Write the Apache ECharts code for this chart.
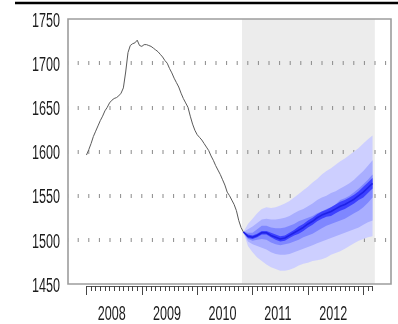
<!DOCTYPE html>
<html>
<head>
<meta charset="utf-8">
<script src="https://cdn.jsdelivr.net/npm/echarts@6/dist/echarts.min.js"></script>
<style>
  html, body { margin: 0; padding: 0; background: #fff; }
  #chart { width: 398px; height: 324px; }
</style>
</head>
<body>
<div id="chart"></div>
<script>
// Months are counted from January 2008.
const yearLabels = ['2008', '2009', '2010', '2011', '2012'];
const yTickValues = [1450, 1500, 1550, 1600, 1650, 1700, 1750];

// Observed index, every half month from Jan 2008
const histValues = [1596,1602,1609,1617,1623,1629,1635,1640,1646,1650,1655,1658,1660,1661,1663,1666,
  1672,1690,1712,1720,1722,1723,1726,1720,1719,1721,1721,1720,1719,1717,1715,1713,1710,1707,1703,
  1700,1694,1689,1683,1678,1673,1666,1660,1655,1650,1640,1631,1624,1619,1616,1613,1609,1605,1601,
  1595,1590,1584,1579,1574,1568,1562,1554,1550,1545,1540,1533,1522,1514,1509];
const histMonths = histValues.map((_, i) => i * 0.5);

// Forecast fan, monthly
const fanMonths = [34,35,36,37,38,39,40,41,42,43,44,45,46,47,48,49,50,51,52,53,54,55,56,57,58,59,60,61,62];
const fanMedian = [1509,1504,1503,1505,1508,1508,1505,1503,1501,1502,1505,1508,1511,1514,1518,1521,1525,1528,1530,1532,1535,1538,1540,1543,1546,1550,1554,1559,1564];
const upper1 = [1509,1518,1524,1530,1535,1537,1536,1537,1539,1541,1544,1548,1552,1556,1560,1565,1569,1574,1578,1581,1585,1589,1592,1596,1600,1604,1609,1614,1618];
const lower1 = [1509,1493,1486,1480,1476,1472,1469,1467,1465,1465,1466,1468,1471,1473,1474,1476,1477,1478,1480,1483,1485,1487,1490,1493,1496,1499,1501,1503,1504];
const upper2 = [1509,1512,1515,1519,1523,1524,1523,1523,1524,1525,1527,1530,1533,1535,1538,1541,1545,1548,1550,1553,1555,1558,1561,1564,1568,1573,1578,1584,1590];
const lower2 = [1509,1498,1495,1493,1491,1489,1486,1484,1483,1483,1484,1486,1488,1490,1492,1494,1496,1498,1500,1502,1504,1506,1508,1510,1512,1514,1517,1520,1522];
const upper3 = [1509,1508,1508,1512,1516,1516,1514,1513,1513,1514,1516,1518,1521,1523,1525,1527,1530,1532,1535,1537,1540,1545,1547,1550,1554,1558,1563,1568,1574];
const lower3 = [1509,1501,1499,1500,1501,1500,1497,1495,1494,1495,1496,1498,1500,1503,1505,1507,1510,1513,1516,1518,1520,1522,1524,1527,1530,1533,1537,1542,1548];
const upper4 = [1509,1506,1505,1507,1510,1510,1508,1506,1504,1505,1508,1511,1515,1518,1522,1525,1529,1532,1534,1537,1540,1543,1545,1548,1551,1555,1560,1565,1570];
const lower4 = [1509,1502,1501,1503,1506,1506,1503,1500,1498,1499,1502,1505,1507,1510,1514,1517,1521,1524,1526,1527,1530,1533,1535,1538,1541,1545,1548,1553,1558];

// Forecast period shading
const shadeStart = 33.7;
const shadeEnd = 62.5;

const yMin = 1450, yMax = 1750, yStep = 50;

const bands = [
  { hi: upper1, lo: lower1, color: '#cdcfff' },
  { hi: upper2, lo: lower2, color: '#a9aeff' },
  { hi: upper3, lo: lower3, color: '#7f87ff' },
  { hi: upper4, lo: lower4, color: '#3c40ff' }
];

// Tall, narrow tick-label lettering
const labelFont = "12.6px 'Liberation Sans', Arial, sans-serif";
const labelStretch = 1.63;
const labelColor = '#1c1c1c';

const chart = echarts.init(document.getElementById('chart'), null, { renderer: 'canvas' });

chart.setOption({
  animation: false,
  backgroundColor: '#fff',
  grid: [
    { left: 68, right: 7, top: 19, bottom: 40, show: true, borderColor: '#9d9d9d', borderWidth: 1.6, backgroundColor: 'transparent' },
    { left: 86.46, right: 25.5, top: 19, bottom: 38 },
    { left: 86.46, right: 34.7, top: 19, bottom: 38 }
  ],
  xAxis: [
    { gridIndex: 0, type: 'value', min: -4, max: 66, show: false },
    { gridIndex: 1, type: 'value', position: 'bottom', min: 0, max: 62, interval: 1,
      axisLine: { show: true, lineStyle: { color: '#555', width: 1 } },
      axisTick: { show: true, length: 5, lineStyle: { color: '#444', width: 1 } },
      axisLabel: { show: false }, splitLine: { show: false } },
    { gridIndex: 2, type: 'value', position: 'bottom', min: 0, max: 60, interval: 12,
      axisLine: { show: false },
      axisTick: { show: true, length: 9, lineStyle: { color: '#444', width: 1 } },
      axisLabel: { show: false }, splitLine: { show: false } }
  ],
  yAxis: [
    { gridIndex: 0, type: 'value', min: yMin, max: yMax, interval: yStep,
      axisLine: { show: false }, axisTick: { show: false }, axisLabel: { show: false },
      splitLine: { show: true, showMinLine: false, showMaxLine: false,
        lineStyle: { color: '#8a8a8a', width: 4, type: [1, 9.6], dashOffset: 0.9 } } },
    { gridIndex: 1, type: 'value', min: yMin, max: yMax, show: false },
    { gridIndex: 2, type: 'value', min: yMin, max: yMax, show: false }
  ],
  series: [
    {
      type: 'custom', name: 'forecast period', z: -1, silent: true,
      xAxisIndex: 0, yAxisIndex: 0,
      data: [[shadeStart, shadeEnd]],
      renderItem: (params, api) => {
        const a = api.coord([api.value(0), yMax]);
        const b = api.coord([api.value(1), yMin]);
        return { type: 'rect', shape: { x: a[0], y: a[1], width: b[0] - a[0], height: b[1] - a[1] },
          style: { fill: '#ececec' } };
      }
    },
    {
      type: 'custom', name: 'fan', z: 2, silent: true,
      xAxisIndex: 0, yAxisIndex: 0,
      data: bands.map((b, i) => [fanMonths[0], b.lo[0], i]),
      renderItem: (params, api) => {
        const band = bands[params.dataIndex];
        const pts = [];
        fanMonths.forEach((m, k) => pts.push(api.coord([m, band.hi[k]])));
        for (let k = fanMonths.length - 1; k >= 0; k--) pts.push(api.coord([fanMonths[k], band.lo[k]]));
        return { type: 'polygon', shape: { points: pts }, style: { fill: band.color } };
      }
    },
    {
      type: 'line', name: 'median', z: 3, xAxisIndex: 0, yAxisIndex: 0,
      data: fanMonths.map((m, k) => [m, fanMedian[k]]),
      showSymbol: false, lineStyle: { color: '#1f22e6', width: 1.6 }
    },
    {
      type: 'line', name: 'history', z: 4, xAxisIndex: 0, yAxisIndex: 0,
      data: histMonths.map((m, k) => [m, histValues[k]]),
      showSymbol: false, lineStyle: { color: '#5a5a5a', width: 1 }
    }
  ]
});

// Tick labels placed from the axes' own scales, stretched vertically
const labels = [{
  type: 'line',
  shape: { x1: 15, y1: 3, x2: 398, y2: 3 },
  style: { stroke: '#000', lineWidth: 2.4 }
}];
yTickValues.forEach(v => {
  const p = chart.convertToPixel({ gridIndex: 0 }, [0, v]);
  const left = chart.convertToPixel({ gridIndex: 0 }, [-4, v]);
  labels.push({
    type: 'text', x: left[0] - 8, y: p[1] + 2, scaleY: labelStretch,
    style: { text: String(v), font: labelFont, fill: labelColor, align: 'right', verticalAlign: 'middle' }
  });
});
yearLabels.forEach((t, i) => {
  const p = chart.convertToPixel({ gridIndex: 0 }, [6 + 12 * i, yMin]);
  labels.push({
    type: 'text', x: p[0] - 2.4, y: p[1] + 30, scaleY: labelStretch,
    style: { text: t, font: labelFont, fill: labelColor, align: 'center', verticalAlign: 'middle' }
  });
});
chart.setOption({ graphic: labels });
</script>
</body>
</html>
